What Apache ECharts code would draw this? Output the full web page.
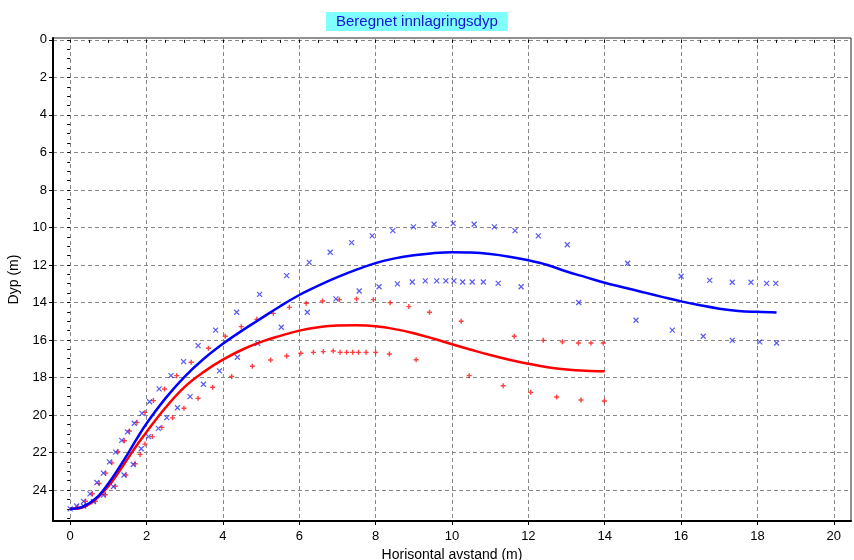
<!DOCTYPE html>
<html>
<head>
<meta charset="utf-8">
<script src="https://cdn.jsdelivr.net/npm/echarts@6/dist/echarts.min.js"></script>
<style>
html,body{margin:0;padding:0;background:#fff;}
#chart{width:854px;height:560px;}
</style>
</head>
<body>
<div id="chart"></div>
<script>
// ---- Data (x = horizontal distance m, d = depth m) ----
var xLabels = [0, 2, 4, 6, 8, 10, 12, 14, 16, 18, 20];
var yLabels = [0, 2, 4, 6, 8, 10, 12, 14, 16, 18, 20, 22, 24];

var blueLine = [[0,25.0],[0.25,24.95],[0.5,24.7],[0.75,24.3],[1,23.65],[1.25,22.9],[1.5,22.1],[1.75,21.25],[2,20.45],[2.5,19.1],[3,17.95],[3.5,17.0],[4,16.2],[4.5,15.5],[5,14.85],[5.5,14.2],[6,13.6],[6.5,13.1],[7,12.65],[7.5,12.25],[8,11.9],[8.5,11.65],[9,11.48],[9.5,11.37],[10,11.32],[10.5,11.34],[11,11.42],[11.5,11.56],[12,11.75],[12.5,12.0],[13,12.35],[13.5,12.65],[14,12.95],[14.5,13.2],[15,13.45],[15.5,13.7],[16,13.94],[16.5,14.15],[17,14.33],[17.5,14.45],[18,14.5],[18.5,14.53]];

var redLine = [[0,25.0],[0.25,24.97],[0.5,24.75],[0.75,24.35],[1,23.8],[1.25,23.1],[1.5,22.35],[1.75,21.6],[2,20.9],[2.5,19.6],[3,18.5],[3.5,17.7],[4,17.05],[4.5,16.52],[5,16.1],[5.5,15.78],[6,15.5],[6.5,15.32],[7,15.23],[7.5,15.22],[8,15.27],[8.5,15.42],[9,15.64],[9.5,15.92],[10,16.23],[10.5,16.52],[11,16.8],[11.5,17.05],[12,17.27],[12.5,17.45],[13,17.57],[13.5,17.64],[14,17.67]];

var blueUpper = [[0,25.0],[0.17,24.85],[0.35,24.6],[0.52,24.2],[0.7,23.6],[0.87,23.1],[1.03,22.5],[1.19,21.98],[1.35,21.35],[1.5,20.9],[1.68,20.44],[1.88,19.91],[2.08,19.29],[2.33,18.61],[2.64,17.9],[2.97,17.15],[3.35,16.3],[3.81,15.47],[4.36,14.52],[4.96,13.57],[5.67,12.57],[6.26,11.86],[6.81,11.32],[7.37,10.81],[7.91,10.45],[8.45,10.17],[8.99,9.97],[9.53,9.83],[10.03,9.78],[10.58,9.83],[11.11,9.97],[11.65,10.17],[12.26,10.45],[13.02,10.92],[14.6,11.91],[16.0,12.6],[16.75,12.82],[17.34,12.92],[17.83,12.92],[18.24,12.98],[18.48,12.98]];

var blueLower = [[0.35,24.85],[0.61,24.62],[0.87,24.27],[1.13,23.82],[1.41,23.2],[1.65,22.64],[1.86,21.8],[2.05,21.15],[2.31,20.71],[2.53,20.14],[2.81,19.61],[3.14,19.02],[3.49,18.36],[3.91,17.65],[4.38,16.92],[4.91,16.18],[5.53,15.32],[6.21,14.52],[6.96,13.81],[7.57,13.39],[8.09,13.16],[8.57,13.01],[8.96,12.91],[9.3,12.85],[9.6,12.85],[9.84,12.85],[10.05,12.85],[10.28,12.91],[10.53,12.91],[10.82,12.91],[11.21,12.98],[11.81,13.16],[13.32,14.0],[14.82,14.95],[15.77,15.47],[16.58,15.8],[17.34,16.02],[18.06,16.1],[18.5,16.16]];

var redUpper = [[0.2,24.9],[0.4,24.6],[0.58,24.2],[0.76,23.65],[0.93,23.1],[1.09,22.55],[1.25,21.95],[1.42,21.37],[1.55,20.85],[1.75,20.39],[1.96,19.86],[2.18,19.23],[2.47,18.61],[2.79,17.9],[3.17,17.19],[3.62,16.44],[4.06,15.8],[4.48,15.29],[4.89,14.9],[5.32,14.58],[5.74,14.26],[6.18,14.04],[6.61,13.92],[7.05,13.85],[7.5,13.81],[7.94,13.85],[8.38,14.01],[8.87,14.22],[9.41,14.52],[10.24,15.0],[11.63,15.8],[12.39,16.02],[12.89,16.1],[13.31,16.16],[13.64,16.16],[13.96,16.16]];

var redLower = [[0.4,24.85],[0.66,24.6],[0.92,24.25],[1.18,23.8],[1.46,23.2],[1.7,22.6],[1.83,22.1],[1.96,21.55],[2.15,21.15],[2.4,20.66],[2.68,20.15],[2.98,19.64],[3.35,19.11],[3.73,18.52],[4.23,17.95],[4.77,17.4],[5.25,17.07],[5.67,16.85],[6.04,16.71],[6.37,16.66],[6.63,16.62],[6.89,16.59],[7.07,16.66],[7.24,16.66],[7.4,16.66],[7.55,16.66],[7.75,16.66],[8.0,16.66],[8.36,16.75],[9.06,17.05],[10.45,17.9],[11.34,18.44],[12.06,18.79],[12.74,19.04],[13.38,19.2],[13.99,19.25]];

// minor tick positions
var xMinor = [], yMinor = [];
for (var i = 0; i <= 40; i++) xMinor.push(i * 0.5);
for (var j = 0; j <= 51; j++) yMinor.push(j * 0.5);

var chart = echarts.init(document.getElementById('chart'), null, {renderer: 'canvas'});
var font = 'Liberation Sans, Arial, sans-serif';
var xMark = 'path://M0,0L10,10M10,0L0,10';
var plusMark = 'path://M5,0L5,10M0,5L10,5';
var X_MIN = -0.45, X_MAX = 20.45, Y_MIN = -0.1, Y_MAX = 25.65;

function minorAxis(vals, pos, inverse, mn, mx) {
  return {
    type: 'value', position: pos, inverse: inverse, min: mn, max: mx,
    axisLine: {show: false},
    axisTick: {show: true, customValues: vals, length: 3, lineStyle: {color: '#000'}},
    axisLabel: {show: false},
    splitLine: {show: false}
  };
}

chart.setOption({
  animation: false,
  backgroundColor: '#ffffff',
  title: {
    text: 'Beregnet innlagringsdyp',
    left: 326, top: 12,
    backgroundColor: '#80ffff',
    padding: [2, 10, 2, 10],
    textStyle: {color: '#1414d2', fontFamily: font, fontSize: 15, fontWeight: 'normal'}
  },
  grid: {
    left: 53, right: 3, top: 38, bottom: 39,
    outerBoundsMode: 'none', containLabel: false,
    show: true, borderColor: '#222', borderWidth: 1, backgroundColor: '#fff'
  },
  xAxis: [{
    type: 'value', position: 'bottom', min: X_MIN, max: X_MAX,
    name: 'Horisontal avstand (m)', nameLocation: 'middle', nameGap: 25,
    nameTextStyle: {color: '#000', fontFamily: font, fontSize: 14},
    axisLine: {show: true, onZero: false, lineStyle: {color: '#000', width: 2}},
    axisTick: {show: true, customValues: xLabels, length: 4, lineStyle: {color: '#000'}},
    axisLabel: {customValues: xLabels, color: '#000', fontFamily: font, fontSize: 13, margin: 9},
    splitLine: {show: true, lineStyle: {color: '#888', type: [4, 3], width: 1}}
  }, minorAxis(xMinor, 'bottom', false, X_MIN, X_MAX)],
  yAxis: [{
    type: 'value', position: 'left', inverse: true, min: Y_MIN, max: Y_MAX,
    name: 'Dyp (m)', nameLocation: 'middle', nameGap: 27,
    nameTextStyle: {color: '#000', fontFamily: font, fontSize: 14},
    axisLine: {show: true, onZero: false, lineStyle: {color: '#000', width: 2}},
    axisTick: {show: true, customValues: yLabels, length: 4, lineStyle: {color: '#000'}},
    axisLabel: {customValues: yLabels, color: '#000', fontFamily: font, fontSize: 13, margin: 6},
    splitLine: {show: true, lineStyle: {color: '#888', type: [4, 3], width: 1}}
  }, minorAxis(yMinor, 'left', true, Y_MIN, Y_MAX)],
  series: [
    {type: 'scatter', data: redUpper, symbol: plusMark, symbolSize: 5,
     itemStyle: {color: 'none', borderColor: '#ff1010', borderWidth: 1.4}},
    {type: 'scatter', data: redLower, symbol: plusMark, symbolSize: 5,
     itemStyle: {color: 'none', borderColor: '#ff1010', borderWidth: 1.4}},
    {type: 'scatter', data: blueUpper, symbol: xMark, symbolSize: 5,
     itemStyle: {color: 'none', borderColor: '#3030f0', borderWidth: 1.2}},
    {type: 'scatter', data: blueLower, symbol: xMark, symbolSize: 5,
     itemStyle: {color: 'none', borderColor: '#3030f0', borderWidth: 1.2}},
    {type: 'line', data: redLine, smooth: 0.4, showSymbol: false,
     lineStyle: {color: '#ff0000', width: 2.5}},
    {type: 'line', data: blueLine, smooth: 0.4, showSymbol: false,
     lineStyle: {color: '#0000ff', width: 2.5}}
  ]
});
</script>
</body>
</html>
